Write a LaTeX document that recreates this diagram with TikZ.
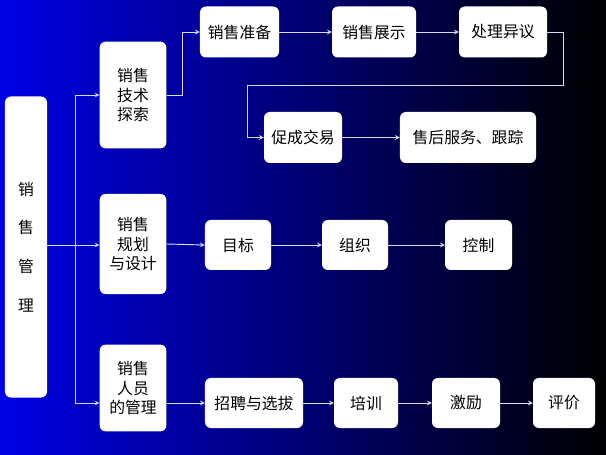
\documentclass[tikz,border=0pt]{standalone}
\usepackage{fontspec}
\setmainfont{Noto Sans CJK SC}
\usetikzlibrary{arrows,positioning}
\tikzstyle{hezi} = [rectangle,rounded corners=5pt,fill=white,draw=none,text=black,font=\fontsize{13.5}{17}\selectfont,align=center]
\tikzstyle{arrow} = [draw=white!85!blue,thick,->,>=stealth]
\begin{document}
\begin{tikzpicture}[x=0.03cm,y=-0.03cm]
\shade[left color=blue!90!black,right color=black] (0,0) rectangle (606,455);
\useasboundingbox (0,0) rectangle (606,455);

% left column
\node (gl) [hezi,minimum width=1.26cm,minimum height=9.03cm] at (26,247) {销\\[16pt]售\\[16pt]管\\[16pt]理};
\node (js) [hezi,minimum width=2.0cm,minimum height=3.2cm] at (133,95) {销售\\技术\\探索};
\node (gh) [hezi,minimum width=2.0cm,minimum height=3.0cm] at (133,244) {销售\\规划\\与设计};
\node (ry) [hezi,minimum width=2.0cm,minimum height=2.6cm] at (133,388) {销售\\人员\\的管理};

% top rows
\node (zb) [hezi,minimum width=2.37cm,minimum height=1.53cm] at (239.5,32) {销售准备};
\node (zs) [hezi,minimum width=2.52cm,minimum height=1.53cm] at (374,32) {销售展示};
\node (yy) [hezi,minimum width=2.64cm,minimum height=1.53cm] at (503,32) {处理异议};
\node (cc) [hezi,minimum width=2.34cm,minimum height=1.53cm] at (303,137.5) {促成交易};
\node (sh) [hezi,minimum width=4.08cm,minimum height=1.53cm] at (468,137.5) {售后服务、跟踪};

% middle row
\node (mb) [hezi,minimum width=1.98cm,minimum height=1.5cm] at (238,245) {目标};
\node (zz) [hezi,minimum width=1.98cm,minimum height=1.5cm] at (355,245) {组织};
\node (kz) [hezi,minimum width=2.01cm,minimum height=1.5cm] at (478.5,245) {控制};

% bottom row
\node (zp) [hezi,minimum width=2.94cm,minimum height=1.5cm] at (254,403) {招聘与选拔};
\node (px) [hezi,minimum width=1.92cm,minimum height=1.5cm] at (366,403) {培训};
\node (jl) [hezi,minimum width=2.04cm,minimum height=1.5cm] at (466,403) {激励};
\node (pj) [hezi,minimum width=1.86cm,minimum height=1.5cm] at (564,403) {评价};

\coordinate (fz) at (75,245);

\draw[arrow,-] (gl.east |- fz) -- (fz);
\draw[arrow] (fz) |- (js.west);
\draw[arrow] (fz) -- (gh.west |- fz);
\draw[arrow] (fz) |- (ry.west |- zp);

\draw[arrow] (js.east) -- ++(16,0) |- (zb.west);
\draw[arrow] (zb) -- (zs);
\draw[arrow] (zs) -- (yy);
\draw[arrow] (yy.east) -- ++(16,0) -- ++(0,53) -| ([xshift=-16*0.03cm]cc.west) -- (cc.west);
\draw[arrow] (cc) -- (sh);

\draw[arrow] (gh.east) -- (mb.west);
\draw[arrow] (mb) -- (zz);
\draw[arrow] (zz) -- (kz);

\draw[arrow] (ry.east |- zp) -- (zp.west);
\draw[arrow] (zp) -- (px);
\draw[arrow] (px) -- (jl);
\draw[arrow] (jl) -- (pj);
\end{tikzpicture}
\end{document}
